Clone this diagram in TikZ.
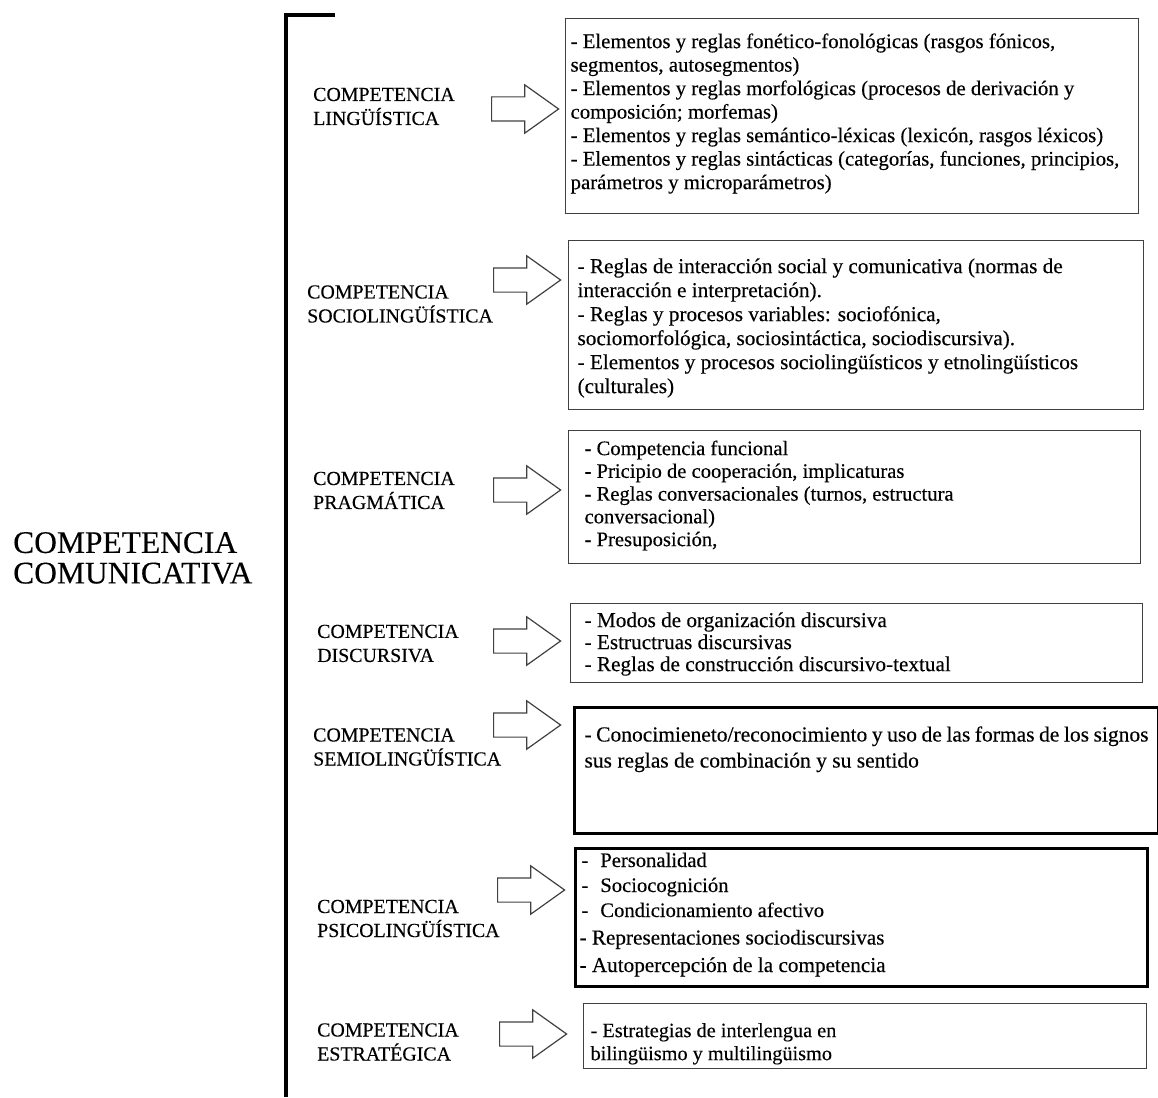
\documentclass[tikz,border=0pt]{standalone}
\usepackage{fontspec}
\setmainfont{Liberation Serif}[FakeBold=0.3]
\usepackage{tikz}
\usetikzlibrary{shapes.arrows}

\tikzset{
  cbox/.style={draw=black!75, line width=1.2pt, inner ysep=0pt,
               anchor=north west, font=\fontsize{20.8}{23.5}\selectfont},
  thickbox/.style={cbox, draw=black, line width=3pt},
  comp/.style={anchor=west, align=left, inner sep=0pt,
               font=\fontsize{19.9}{24}\selectfont},
  blockarrow/.style={single arrow, draw=black!75, line width=1.2pt,
                     anchor=tail, minimum height=67pt, inner xsep=0pt,
                     inner ysep=11.5pt, single arrow head extend=12pt,
                     single arrow tip angle=71}
}

\begin{document}
\begin{tikzpicture}[x=1pt, y=-1pt]
\useasboundingbox (0,0) rectangle (1158,1097);

\node[anchor=west, align=left, inner sep=0pt,
      font=\fontsize{31.5}{30.5}\selectfont] (cc) at (13,558)
  {COMPETENCIA\\COMUNICATIVA};

\draw[line width=3.5pt] (335,15) -- (286,15) -- (286,1097);

\node[comp] (l1) at (313,106.5) {COMPETENCIA\\LINGÜÍSTICA};
\node[comp] (l2) at (307,304) {COMPETENCIA\\SOCIOLINGÜÍSTICA};
\node[comp] (l3) at (313,490.5) {COMPETENCIA\\PRAGMÁTICA};
\node[comp] (l4) at (317,643.5) {COMPETENCIA\\DISCURSIVA};
\node[comp] (l5) at (313,747) {COMPETENCIA\\SEMIOLINGÜÍSTICA};
\node[comp] (l6) at (317,918.5) {COMPETENCIA\\PSICOLINGÜÍSTICA};
\node[comp] (l7) at (317,1042) {COMPETENCIA\\ESTRATÉGICA};

\node[blockarrow] (a1) at (491,109) {};
\node[blockarrow] (a2) at (493,280) {};
\node[blockarrow] (a3) at (493,490) {};
\node[blockarrow] (a4) at (493,641) {};
\node[blockarrow] (a5) at (493,725) {};
\node[blockarrow] (a6) at (497,890) {};
\node[blockarrow] (a7) at (499,1034) {};

\node[cbox, inner xsep=5pt] (b1) at (565,18) {
\begin{minipage}[t][195pt]{563pt}
\rule{0pt}{29.5pt}- Elementos y reglas fonético-fonológicas (rasgos fónicos,\\
segmentos, autosegmentos)\\
- Elementos y reglas morfológicas (procesos de derivación y\\
composición; morfemas)\\
- Elementos y reglas semántico-léxicas (lexicón, rasgos léxicos)\\
- Elementos y reglas sintácticas (categorías, funciones, principios,\\
parámetros y microparámetros)
\end{minipage}
};

\node[cbox, inner xsep=9pt, font=\fontsize{21.2}{24}\selectfont] (b2) at (568,240) {
\begin{minipage}[t][169pt]{557pt}
\rule{0pt}{32.5pt}- Reglas de interacción social y comunicativa (normas de\\
interacción e interpretación).\\
- Reglas y procesos variables: sociofónica,\\
sociomorfológica, sociosintáctica, sociodiscursiva).\\
- Elementos y procesos sociolingüísticos y etnolingüísticos\\
(culturales)
\end{minipage}
};

\node[cbox, inner xsep=16pt, font=\fontsize{20.6}{22.75}\selectfont] (b3) at (568,430) {
\begin{minipage}[t][133pt]{540pt}
\rule{0pt}{24.5pt}- Competencia funcional\\
- Pricipio de cooperación, implicaturas\\
- Reglas conversacionales (turnos, estructura\\
conversacional)\\
- Presuposición,
\end{minipage}
};

\node[cbox, inner xsep=14pt, font=\fontsize{21.2}{22}\selectfont] (b4) at (570,603) {
\begin{minipage}[t][79pt]{544pt}
\rule{0pt}{23.5pt}- Modos de organización discursiva\\
- Estructruas discursivas\\
- Reglas de construcción discursivo-textual
\end{minipage}
};

\node[thickbox, inner xsep=10pt, font=\fontsize{21.5}{26}\selectfont] (b5) at (573,706) {
\begin{minipage}[t][126pt]{564pt}
\rule{0pt}{34pt}- Conocimieneto/reconocimiento y uso de las formas de los signos\\
sus reglas de combinación y su sentido
\end{minipage}
};

\node[thickbox, inner xsep=3pt] (b6) at (574,847) {
\begin{minipage}[t][138pt]{566pt}
\fontsize{20.6}{25}\selectfont
\rule{0pt}{18.5pt}\hspace{3pt}-\hspace{12pt}Personalidad\\
\hspace*{3pt}-\hspace{12pt}Sociocognición\\
\hspace*{3pt}-\hspace{12pt}Condicionamiento afectivo\par
\fontsize{21.2}{27.5}\selectfont
\hspace*{1pt}- Representaciones sociodiscursivas\\
\hspace*{1pt}- Autopercepción de la competencia\par
\end{minipage}
};

\node[cbox, inner xsep=7pt, font=\fontsize{20.3}{23}\selectfont] (b7) at (583,1003) {
\begin{minipage}[t][65pt]{549pt}
\rule{0pt}{33.5pt}- Estrategias de interlengua en\\
bilingüismo y multilingüismo
\end{minipage}
};

\end{tikzpicture}
\end{document}
